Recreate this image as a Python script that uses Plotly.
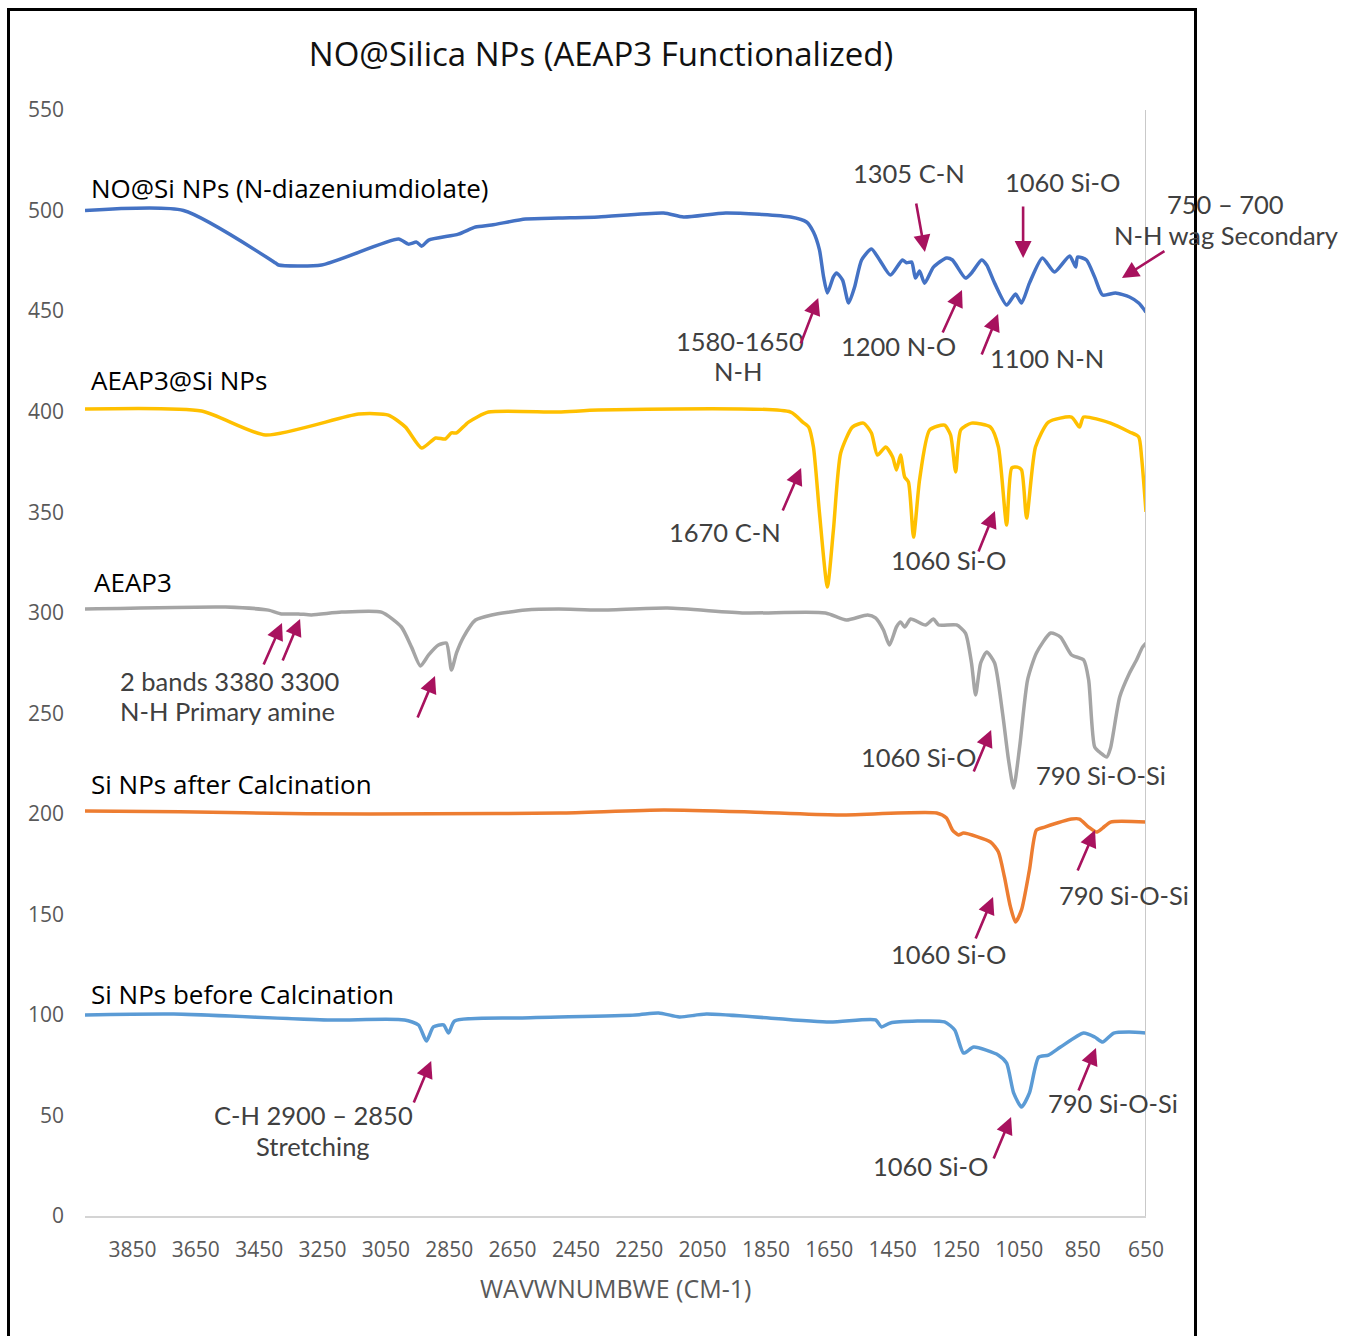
import plotly.graph_objects as go

# ---------------- FTIR spectra (wavenumber in cm-1, offset transmittance) ----------------
no_si_wn = [4000, 3689, 3398, 3389, 3253, 3010, 2979, 2953, 2937, 2915, 2821, 2767, 2716, 2609,
            2505, 2379, 2173, 2110, 1977, 1772, 1722, 1700, 1681, 1668, 1656, 1637, 1627, 1608,
            1589, 1570, 1548, 1517, 1491, 1457, 1419, 1406, 1390, 1378, 1365, 1349, 1321, 1280,
            1261, 1220, 1201, 1169, 1153, 1128, 1090, 1062, 1043, 1018, 977, 939, 891, 872, 866,
            838, 812, 787, 746, 702, 673, 650]
no_si_t = [500, 500, 473.9, 472.9, 472.9, 485.8, 483.3, 484.3, 482.3, 485.3, 488.3, 491.8, 492.8,
           495.8, 496.3, 496.8, 498.8, 496.8, 498.8, 496.8, 494.3, 489.3, 480.4, 467, 459, 467, 469,
           465.4, 454, 462, 475.4, 480.9, 475.4, 467.9, 475.4, 474, 474.4, 466.4, 469.9, 463.9,
           471.9, 476.4, 475.4, 466.4, 468.9, 475.4, 472.9, 463.9, 453, 458.5, 454, 463.9, 476.4,
           469.4, 477.4, 471.9, 476.9, 475.4, 466.9, 458, 459, 457, 454, 449.5]

aeap3_si_wn = [4000, 3632, 3430, 3136, 3042, 2988, 2937, 2893, 2862, 2843, 2827, 2789, 2726, 2505,
               2379, 1772, 1734, 1715, 1700, 1681, 1656, 1637, 1614, 1577, 1542, 1517, 1498, 1472,
               1450, 1438, 1425, 1412, 1400, 1384, 1365, 1333, 1286, 1267, 1251, 1235, 1201, 1141,
               1116, 1090, 1074, 1056, 1043, 1027, 999, 958, 885, 860, 847, 762, 702, 673, 664, 650]
aeap3_si_t = [401.3, 400.3, 388.4, 398.8, 398.3, 392.3, 381.9, 386.9, 386.4, 389.4, 389.4, 394.8,
              399.8, 399.8, 400.8, 399.8, 394.8, 392.3, 382.4, 349.6, 312.8, 341.1, 379.4, 392.3,
              394.3, 389.4, 378.4, 382.4, 377.4, 371, 378.4, 367.5, 365, 337.6, 366, 390.9, 393.3,
              388.4, 370, 390.9, 394.3, 392.3, 382.4, 343.6, 372, 372.4, 371, 347.1, 382.4, 394.8,
              397.3, 392.3, 397.3, 394.3, 389.9, 387.4, 377.4, 350.1]

aeap3_wn = [4000, 3556, 3421, 3380, 3326, 3285, 3190, 3064, 3001, 2969, 2941, 2915, 2884, 2859,
            2843, 2827, 2805, 2767, 2716, 2609, 2505, 2379, 2161, 1918, 1662, 1596, 1529, 1504,
            1479, 1460, 1438, 1425, 1412, 1393, 1346, 1321, 1305, 1248, 1220, 1201, 1188, 1172,
            1153, 1128, 1103, 1084, 1068, 1049, 1024, 996, 951, 920, 885, 847, 831, 812, 793, 774,
            762, 733, 702, 680, 661, 650]
aeap3_t = [301.8, 302.8, 301.3, 299.4, 299.4, 298.9, 300.3, 300.3, 292.9, 282.9, 273.5, 279, 283.9,
           284.9, 271.5, 280, 287.9, 296.4, 298.9, 301.3, 301.8, 301.3, 302.3, 299.9, 299.9, 296.4,
           298.9, 297.4, 291.4, 283.9, 292.9, 295.4, 292.9, 296.9, 293.9, 296.9, 293.9, 293.9,
           289.9, 275, 259.1, 275, 280.5, 275, 250.1, 226.7, 212.8, 233.2, 266.5, 280, 289.9, 287.9,
           279, 276.5, 266.5, 233.2, 230.2, 228.2, 232.7, 258.1, 270, 276.5, 282.9, 284.9]

calc_after_wn = [4000, 3700, 3300, 2900, 2500, 2173, 1900, 1627, 1311, 1280, 1261, 1242, 1226, 1141,
                 1116, 1097, 1078, 1062, 1043, 1018, 996, 970, 885, 860, 831, 806, 787, 762, 650]
calc_after_t = [201.4, 201, 200, 200, 200.4, 201.9, 200.9, 199.4, 200.4, 197.9, 191.9, 189.5, 190.4,
                186, 181, 168.6, 153.7, 146.2, 152.2, 172.1, 191.9, 193.4, 197.4, 197.4, 193.4, 190.9,
                192.9, 195.9, 195.9]

calc_before_wn = [4000, 3720, 3234, 2991, 2947, 2922, 2900, 2868, 2852, 2833, 2628, 2262, 2189, 2123,
                  2038, 1649, 1504, 1485, 1457, 1286, 1254, 1226, 1194, 1116, 1090, 1068, 1043, 1018,
                  989, 958, 920, 847, 812, 787, 752, 702, 650]
calc_before_t = [100, 100.4, 97.5, 97.5, 95, 87, 94, 95, 91, 97, 98.5, 100, 101, 99, 100.4, 96.5,
                 97.5, 94, 96, 96.5, 92.5, 81, 84, 80, 76, 61.2, 54.2, 61.2, 79, 80, 84, 91, 89,
                 86.5, 91, 91.5, 91]

series_names = ["NO@Si NPs (N-diazeniumdiolate)", "AEAP3@Si NPs", "AEAP3",
                "Si NPs after Calcination", "Si NPs before Calcination"]
series_x = [no_si_wn, aeap3_si_wn, aeap3_wn, calc_after_wn, calc_before_wn]
series_y = [no_si_t, aeap3_si_t, aeap3_t, calc_after_t, calc_before_t]
series_colors = ["#4472C4", "#FFC000", "#A5A5A5", "#ED7D31", "#5B9BD5"]

# series name label anchors (wavenumber, transmittance), left aligned
label_pos = [(3987, 511.2), (3987, 415.7), (3978, 315.3), (3987, 214.8), (3987, 110.4)]

x_ticks = list(range(3850, 649, -200))
y_ticks = list(range(0, 551, 50))

# band assignments: text, wavenumber, transmittance (text centre)
band_labels = [
    ("1305 C-N", 1398, 518.6),
    ("1060 Si-O", 915, 514.2),
    ("1580-1650", 1932, 435.1),
    ("N-H", 1938, 420.2),
    ("1200 N-O", 1433, 432.6),
    ("1100 N-N", 962, 426.7),
    ("1670 C-N", 1979, 340.1),
    ("1060 Si-O", 1275, 326.2),
    ("1060 Si-O", 1367, 228.2),
    ("790 Si-O-Si", 792, 219.3),
    ("790 Si-O-Si", 719, 159.6),
    ("1060 Si-O", 1275, 130.3),
    ("C-H 2900 \u2013 2850", 3280, 50.2),
    ("Stretching", 3280, 34.8),
    ("790 Si-O-Si", 754, 56.2),
    ("1060 Si-O", 1332, 24.9),
]
# left-aligned notes
band_notes = [
    ("2 bands 3380 3300", 3896, 266.0),
    ("N-H Primary amine", 3896, 251.1),
]
# notes beyond the right end of the axis (x in paper fraction)
side_notes = [
    ("750 \u2013 700", 1.0754, 503.2),
    ("N-H wag Secondary", 1.0754, 487.8),
]
# arrows: head (wavenumber, transmittance), tail offset in pixels
arrows = [
    (1348, 479.4, -9, -50),
    (1038, 476.4, 0, -53),
    (726, 466.4, 44, -28),
    (1685, 456.5, -18, 47),
    (1231, 460.5, -20, 44),
    (1117, 448.5, -17, 42),
    (1739, 372.0, -19, 44),
    (1127, 350.6, -17, 42),
    (3378, 294.9, -19, 43),
    (3321, 296.9, -18, 43),
    (2895, 268.5, -18, 43),
    (1139, 241.7, -18, 43),
    (1133, 158.6, -18, 43),
    (811, 191.9, -18, 42),
    (2907, 77.1, -18, 43),
    (1076, 49.2, -18, 43),
    (808, 83.5, -18, 44),
]

W, H = 1351, 1336
ML, MR, MT, MB = 85, 205, 110, 120
PW, PH = W - ML - MR, H - MT - MB

def paper_x(px):
    return (px - ML) / PW

def paper_y(py):
    return (H - MB - py) / PH

LABEL_FONT = dict(family="Open Sans", size=26, color="#000000")
NOTE_FONT = dict(family="Lato", size=25.5, color="#404040")
TICK_FONT = dict(family="Open Sans", size=21, color="#595959")
ARROW_COLOR = "#A8125E"

fig = go.Figure()
for name, xs, ys, col in zip(series_names, series_x, series_y, series_colors):
    fig.add_trace(go.Scatter(
        x=xs, y=ys, mode="lines", name=name,
        line=dict(color=col, width=3.5, shape="spline", smoothing=0.6),
        hoverinfo="skip",
    ))

annotations = []
for name, (wx, ty) in zip(series_names, label_pos):
    annotations.append(dict(x=wx, y=ty, xref="x", yref="y", text=name, showarrow=False,
                            xanchor="left", yanchor="middle", font=LABEL_FONT))
for text, wx, ty in band_labels:
    annotations.append(dict(x=wx, y=ty, xref="x", yref="y", text=text, showarrow=False,
                            xanchor="center", yanchor="middle", font=NOTE_FONT))
for text, wx, ty in band_notes:
    annotations.append(dict(x=wx, y=ty, xref="x", yref="y", text=text, showarrow=False,
                            xanchor="left", yanchor="middle", font=NOTE_FONT))
for text, fx, ty in side_notes:
    annotations.append(dict(x=fx, y=ty, xref="paper", yref="y", text=text, showarrow=False,
                            xanchor="center", yanchor="middle", font=NOTE_FONT))
for wx, ty, dx, dy in arrows:
    annotations.append(dict(x=wx, y=ty, xref="x", yref="y", ax=dx, ay=dy, text="",
                            showarrow=True, arrowhead=2, arrowsize=1.3, arrowwidth=2.6,
                            arrowcolor=ARROW_COLOR, standoff=0, startstandoff=0))
# axis title
annotations.append(dict(x=0.5, y=paper_y(1288), xref="paper", yref="paper",
                        text="WAVWNUMBWE (CM-1)", showarrow=False, xanchor="center",
                        yanchor="middle", font=dict(family="Open Sans", size=25, color="#595959")))

shapes = [
    # value axis line at the low-wavenumber end
    dict(type="line", xref="x", yref="y", x0=650, x1=650, y0=0, y1=550,
         line=dict(color="#C9C9C9", width=2)),
    # chart frame
    dict(type="rect", xref="paper", yref="paper", x0=paper_x(8.5), x1=paper_x(1195.5),
         y0=paper_y(1345), y1=paper_y(9.5), line=dict(color="#000000", width=3),
         fillcolor="rgba(0,0,0,0)", layer="above"),
]

fig.update_layout(
    width=W, height=H,
    margin=dict(l=ML, r=MR, t=MT, b=MB),
    paper_bgcolor="white", plot_bgcolor="white",
    showlegend=False,
    title=dict(text="NO@Silica NPs (AEAP3 Functionalized)", x=601 / W, y=1 - 54 / H,
               xref="container", yref="container", xanchor="center", yanchor="middle",
               font=dict(family="Open Sans", size=33, color="#111111")),
    annotations=annotations,
    shapes=shapes,
)
fig.update_xaxes(range=[4000, 650], tickvals=x_ticks, ticktext=[str(v) for v in x_ticks],
                 showgrid=False, zeroline=False, showline=True, linecolor="#D4D4D4",
                 linewidth=2, ticks="", ticklabelstandoff=14, tickfont=TICK_FONT)
fig.update_yaxes(range=[0, 550], tickvals=y_ticks, showgrid=False, zeroline=False,
                 showline=False, ticks="", ticklabelstandoff=20, tickfont=TICK_FONT)

fig.write_html("out.html")
